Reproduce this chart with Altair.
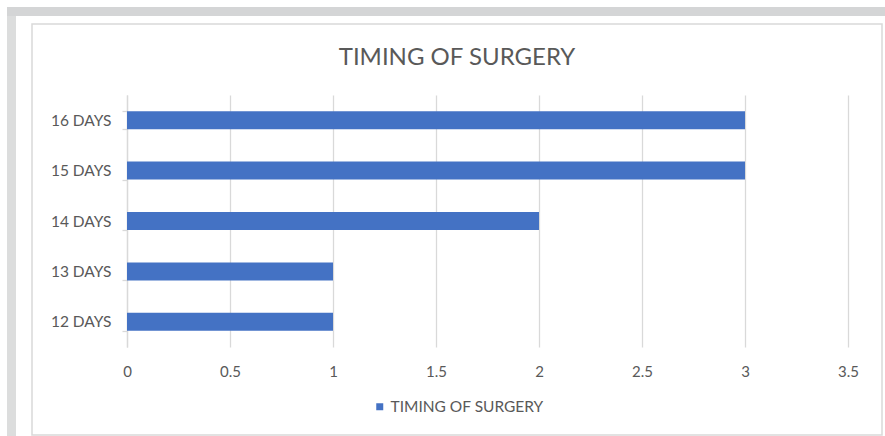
import altair as alt
import pandas as pd

categories = ["12 DAYS", "13 DAYS", "14 DAYS", "15 DAYS", "16 DAYS"]
values = [1, 1, 2, 3, 3]
series_name = "TIMING OF SURGERY"
chart_title = "TIMING OF SURGERY"
x_ticks = [0, 0.5, 1, 1.5, 2, 2.5, 3, 3.5]

df = pd.DataFrame({"cat": categories, "val": values, "series": [series_name] * len(categories)})

FONT = "Lato"
TXT = "#595959"
GRID = "#d9d9d9"

# decorative frame (outside the plot area)
frame_df = pd.DataFrame({"k": [0]})
top_band = alt.Chart(frame_df).mark_rect(color="#d4d5d6").encode(
    x=alt.value(-120), x2=alt.value(758), y=alt.value(-88), y2=alt.value(-79))
left_band = alt.Chart(frame_df).mark_rect(color="#dcdddd").encode(
    x=alt.value(-120), x2=alt.value(-111), y=alt.value(-79), y2=alt.value(341))
border = alt.Chart(frame_df).mark_rect(fillOpacity=0, stroke="#d9d9d9", strokeWidth=1.5).encode(
    x=alt.value(-95), x2=alt.value(755), y=alt.value(-71), y2=alt.value(340))

title = alt.Chart(frame_df).mark_text(
    font=FONT, fontSize=24, color=TXT, align="center", baseline="alphabetic"
).encode(x=alt.value(330), y=alt.value(-30), text=alt.value(chart_title))

bars = alt.Chart(df).mark_bar(size=18).encode(
    x=alt.X("val:Q", scale=alt.Scale(domain=[0, 3.5], nice=False),
            axis=alt.Axis(values=x_ticks, format="~g", title=None, domain=False, ticks=False,
                          grid=True, gridColor=GRID, gridWidth=1.3, labelFlush=False,
                          labelFont=FONT, labelFontSize=15, labelColor=TXT, labelPadding=17)),
    y=alt.Y("cat:N", sort=categories[::-1],
            scale=alt.Scale(paddingInner=0.64, paddingOuter=0.32),
            axis=alt.Axis(title=None, domain=True, domainColor=GRID, domainWidth=1.3,
                          ticks=True, tickBand="extent", tickColor=GRID, tickSize=5, tickWidth=1.3,
                          labelFont=FONT, labelFontSize=15.5, labelColor=TXT, labelPadding=11)),
    color=alt.Color("series:N", scale=alt.Scale(range=["#4472C4"]),
                    legend=alt.Legend(title=None, orient="none", legendX=245, legendY=304,
                                      symbolType="square", symbolSize=49,
                                      symbolStrokeWidth=0, symbolOffset=0, labelOffset=3,
                                      labelFont=FONT, labelFontSize=15.5, labelColor=TXT)),
)

chart = alt.layer(top_band, left_band, border, title, bars).properties(
    width=721, height=252,
    padding={"left": 127, "top": 95, "right": 37, "bottom": 89},
    autosize=alt.AutoSizeParams(type="none"),
    background="white",
).configure_view(stroke=None)

chart.save("out.html", embed_options={"renderer": "svg", "actions": False})
